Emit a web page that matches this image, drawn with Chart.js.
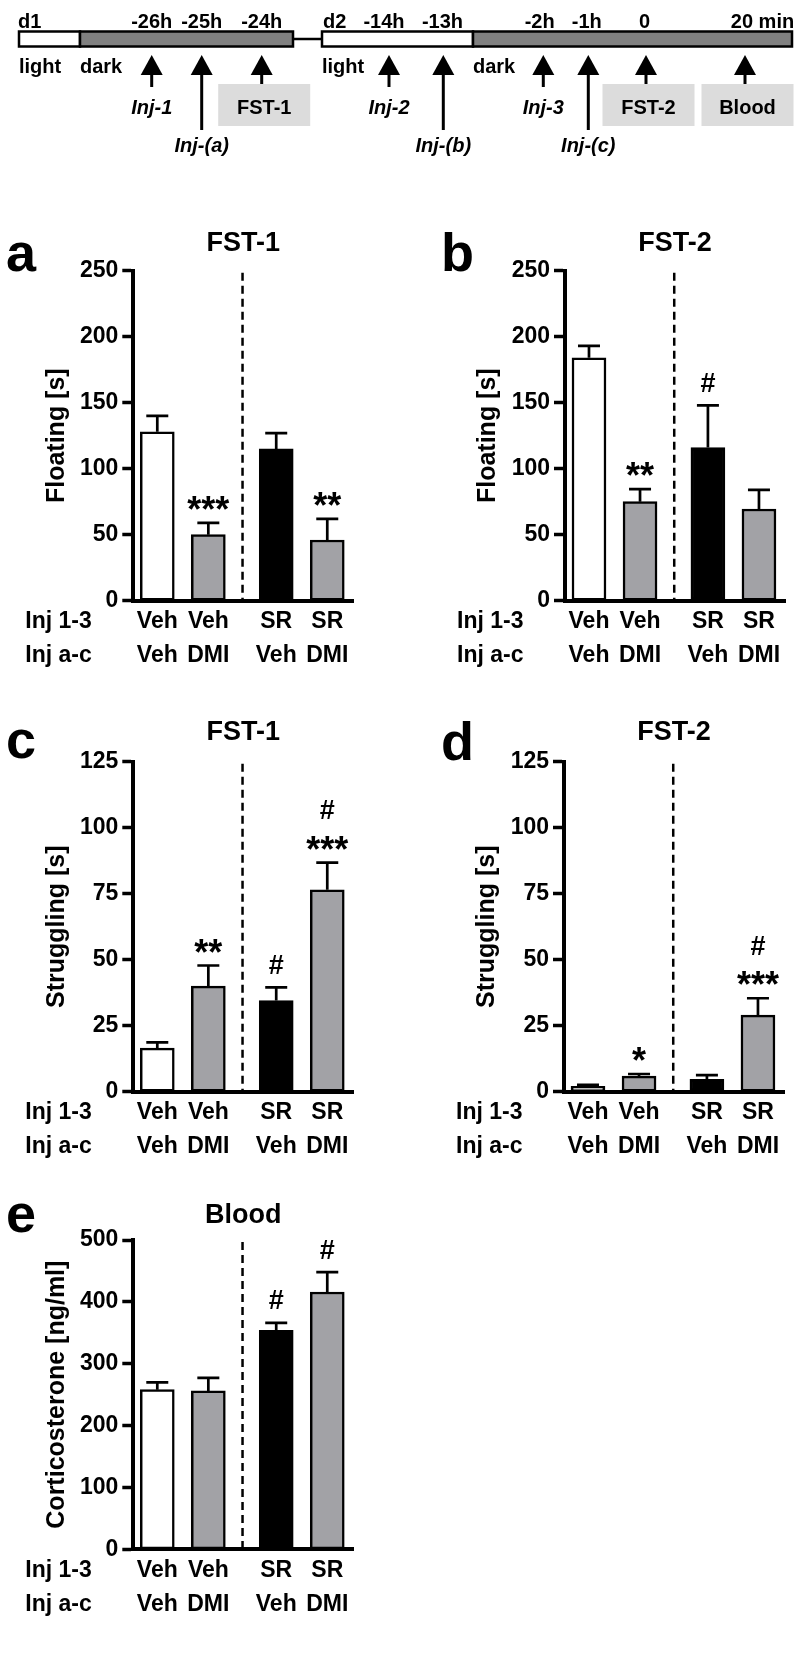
<!DOCTYPE html>
<html>
<head>
<meta charset="utf-8">
<script src="https://cdn.jsdelivr.net/npm/chart.js@4.4.0/dist/chart.umd.min.js"></script>
<style>
  html, body { margin: 0; padding: 0; background: #fff; }
  #page { position: relative; width: 800px; height: 1658px; overflow: hidden; }
  #page canvas { position: absolute; display: block; }
</style>
</head>
<body>
<div id="page">
  <canvas id="timeline" width="800" height="160" style="left:0;top:0"></canvas>
  <canvas id="chart-a" width="400" height="480" style="left:0;top:200px"></canvas>
  <canvas id="chart-b" width="400" height="480" style="left:400px;top:200px"></canvas>
  <canvas id="chart-c" width="400" height="470" style="left:0;top:690px"></canvas>
  <canvas id="chart-d" width="400" height="470" style="left:400px;top:690px"></canvas>
  <canvas id="chart-e" width="400" height="488" style="left:0;top:1170px"></canvas>
</div>
<script>
// ========================================
// Data
// ========================================
const INJ_13 = ['Veh', 'Veh', 'SR', 'SR'];
const INJ_AC = ['Veh', 'DMI', 'Veh', 'DMI'];
const ROW_LABELS = ['Inj 1-3', 'Inj a-c'];
const BAR_X = [1, 2, 3.33, 4.33];       // Veh pair, gap, SR pair
const DIVIDER_X = 2.67;

// a: FST-1 floating
const floatFst1Mean = [128, 50, 115, 46];
const floatFst1Sem = [12, 9, 12, 16];
const floatFst1Stars = ['', '***', '', '**'];
const floatFst1Hash = ['', '', '', ''];

// b: FST-2 floating
const floatFst2Mean = [184, 75, 116, 69.5];
const floatFst2Sem = [9, 9.5, 32, 14.5];
const floatFst2Stars = ['', '**', '', ''];
const floatFst2Hash = ['', '', '#', ''];

// c: FST-1 struggling
const strugFst1Mean = [16.5, 40, 34.5, 76.5];
const strugFst1Sem = [2.2, 7.8, 5, 10.3];
const strugFst1Stars = ['', '**', '', '***'];
const strugFst1Hash = ['', '', '#', '#'];

// d: FST-2 struggling
const strugFst2Mean = [2, 5.9, 4.7, 29];
const strugFst2Sem = [0.6, 0.8, 1.6, 6.4];
const strugFst2Stars = ['', '*', '', '***'];
const strugFst2Hash = ['', '', '', '#'];

// e: blood corticosterone
const cortMean = [258, 256, 354, 416];
const cortSem = [12, 21, 12, 32];
const cortStars = ['', '', '', ''];
const cortHash = ['', '', '#', '#'];

// timeline (schematic, not to scale)
const tlSegments = [[19, 80], [80, 293], [322, 473], [473, 792]];
const tlPhases = ['light', 'dark', 'light', 'dark'];
const tlDays = ['d1', 'd2'];
const tlDayX = [18, 323];
const tlTimes = ['-26h', '-25h', '-24h', '-14h', '-13h', '-2h', '-1h', '0', '20 min'];
const tlTimeX = [151.7, 201.7, 261.7, 384, 442.5, 539.7, 586.8, 644.5, 762.5];
const tlEvents = ['Inj-1', 'Inj-(a)', 'FST-1', 'Inj-2', 'Inj-(b)', 'Inj-3', 'Inj-(c)', 'FST-2', 'Blood'];
const tlEventX = [151.7, 201.7, 261.7, 389, 443.3, 543.3, 588.3, 646, 745];
const tlEventKind = ['short', 'long', 'box', 'short', 'long', 'short', 'long', 'box', 'box'];

// ========================================
// Styles
// ========================================
const FONT = "'Liberation Sans', Arial, Helvetica, sans-serif";
const BAR_COLORS = ['#ffffff', '#a2a2a6', '#000000', '#a2a2a6'];
const X_MIN = 0.53;
const X_MAX = 4.84;
const TICK_SIZE = 23;
const ROW_LH = 34;

Chart.defaults.font.family = FONT;
Chart.defaults.color = '#000';

function fillCentered(ctx, text, cx, cy) {
    const m = ctx.measureText(text);
    ctx.textAlign = 'center';
    ctx.textBaseline = 'alphabetic';
    ctx.fillText(text, cx, cy + (m.actualBoundingBoxAscent - m.actualBoundingBoxDescent) / 2);
}

// ========================================
// Panel decorations (divider, error bars, stats, titles)
// ========================================
function makeDecor(p) {
    return {
        id: 'decor_' + p.letter,
        beforeDatasetsDraw(chart) {
            const { ctx, chartArea, scales: { x } } = chart;
            const dx = x.getPixelForValue(DIVIDER_X);
            ctx.save();
            ctx.strokeStyle = '#000';
            ctx.lineWidth = 2.5;
            ctx.setLineDash([8, 5]);
            ctx.beginPath();
            ctx.moveTo(dx, chartArea.top + 2);
            ctx.lineTo(dx, chartArea.bottom);
            ctx.stroke();
            ctx.restore();
        },
        afterDatasetsDraw(chart) {
            const { ctx, scales: { x, y } } = chart;
            ctx.save();
            ctx.strokeStyle = '#000';
            ctx.fillStyle = '#000';
            ctx.lineWidth = 2.7;
            BAR_X.forEach((bx, i) => {
                const px = x.getPixelForValue(bx);
                const top = y.getPixelForValue(p.mean[i]);
                const err = y.getPixelForValue(p.mean[i] + p.sem[i]);
                ctx.beginPath();
                ctx.moveTo(px, top);
                ctx.lineTo(px, err);
                ctx.moveTo(px - 11, err);
                ctx.lineTo(px + 11, err);
                ctx.stroke();

                let cy = err;
                if (p.stars[i]) {
                    cy = err - 20;
                    ctx.font = 'bold 36px ' + FONT;
                    fillCentered(ctx, p.stars[i], px, cy);
                }
                if (p.hashes[i]) {
                    cy = p.stars[i] ? cy - 33 : err - 23;
                    ctx.font = 'bold 27px ' + FONT;
                    fillCentered(ctx, p.hashes[i], px, cy);
                }
            });
            ctx.restore();
        },
        afterDraw(chart) {
            const { ctx, chartArea, scales: { x } } = chart;
            ctx.save();
            ctx.fillStyle = '#000';
            // title
            ctx.font = 'bold 27px ' + FONT;
            fillCentered(ctx, p.title, (chartArea.left + chartArea.right) / 2, p.titleY - p.box.top);
            // panel letter
            ctx.font = 'bold 54px ' + FONT;
            ctx.textAlign = 'left';
            ctx.textBaseline = 'alphabetic';
            ctx.fillText(p.letter, p.letterX - p.box.left, p.letterY - p.box.top);
            // row labels for the group axis
            ctx.font = 'bold ' + TICK_SIZE + 'px ' + FONT;
            ctx.textBaseline = 'middle';
            ROW_LABELS.forEach((label, r) => {
                ctx.fillText(label, chartArea.left - 108, x.top + 4 + ROW_LH / 2 + r * ROW_LH);
            });
            ctx.restore();
        }
    };
}

// ========================================
// Panels
// ========================================
const PANELS = [
    { id: 'chart-a', letter: 'a', title: 'FST-1', yTitle: 'Floating [s]', yMax: 250, yStep: 50,
      mean: floatFst1Mean, sem: floatFst1Sem, stars: floatFst1Stars, hashes: floatFst1Hash,
      box: { left: 0, top: 200, width: 400, height: 480 },
      plot: { left: 133.3, top: 270.7, bottom: 600.7 },
      titleY: 241, letterX: 6, letterY: 271, yTitleX: 57.5 },
    { id: 'chart-b', letter: 'b', title: 'FST-2', yTitle: 'Floating [s]', yMax: 250, yStep: 50,
      mean: floatFst2Mean, sem: floatFst2Sem, stars: floatFst2Stars, hashes: floatFst2Hash,
      box: { left: 400, top: 200, width: 400, height: 480 },
      plot: { left: 565, top: 270.7, bottom: 600.7 },
      titleY: 241, letterX: 441, letterY: 271, yTitleX: 488 },
    { id: 'chart-c', letter: 'c', title: 'FST-1', yTitle: 'Struggling [s]', yMax: 125, yStep: 25,
      mean: strugFst1Mean, sem: strugFst1Sem, stars: strugFst1Stars, hashes: strugFst1Hash,
      box: { left: 0, top: 690, width: 400, height: 470 },
      plot: { left: 133.3, top: 761.7, bottom: 1091.7 },
      titleY: 730, letterX: 6, letterY: 758, yTitleX: 57 },
    { id: 'chart-d', letter: 'd', title: 'FST-2', yTitle: 'Struggling [s]', yMax: 125, yStep: 25,
      mean: strugFst2Mean, sem: strugFst2Sem, stars: strugFst2Stars, hashes: strugFst2Hash,
      box: { left: 400, top: 690, width: 400, height: 470 },
      plot: { left: 564, top: 761.7, bottom: 1091.7 },
      titleY: 730, letterX: 441, letterY: 760, yTitleX: 487 },
    { id: 'chart-e', letter: 'e', title: 'Blood', yTitle: 'Corticosterone [ng/ml]', yMax: 500, yStep: 100,
      mean: cortMean, sem: cortSem, stars: cortStars, hashes: cortHash,
      box: { left: 0, top: 1170, width: 400, height: 488 },
      plot: { left: 133.3, top: 1240, bottom: 1549.3 },
      titleY: 1213, letterX: 6, letterY: 1232, yTitleX: 57 }
];

function buildPanel(p) {
    const b = p.box;
    const a = p.plot;
    const yWidth = a.left - b.left;
    const padTop = a.top - b.top;
    const padRight = b.left + b.width - (a.left + 220);
    const xHeight = b.top + b.height - a.bottom;

    new Chart(document.getElementById(p.id), {
        type: 'bar',
        data: {
            datasets: [{
                data: BAR_X.map((bx, i) => ({ x: bx, y: p.mean[i] })),
                backgroundColor: BAR_COLORS,
                borderColor: '#000',
                borderWidth: 2.5,
                borderSkipped: false,
                barThickness: 34
            }]
        },
        options: {
            responsive: false,
            animation: false,
            events: [],
            layout: { padding: { top: padTop, right: padRight, left: 0, bottom: 0 } },
            plugins: {
                legend: { display: false },
                tooltip: { enabled: false },
                title: { display: false }
            },
            scales: {
                x: {
                    type: 'linear',
                    min: X_MIN,
                    max: X_MAX,
                    offset: false,
                    grid: { display: false, drawTicks: false, offset: false },
                    border: { display: true, width: 4, color: '#000', z: 1 },
                    afterBuildTicks: s => { s.ticks = BAR_X.map(v => ({ value: v })); },
                    afterFit: s => { s.height = xHeight; },
                    ticks: {
                        autoSkip: false,
                        maxRotation: 0,
                        minRotation: 0,
                        padding: 4,
                        color: '#000',
                        font: { size: TICK_SIZE, weight: 'bold', lineHeight: ROW_LH / TICK_SIZE },
                        callback: (v, i) => [INJ_13[i], INJ_AC[i]]
                    }
                },
                y: {
                    min: 0,
                    max: p.yMax,
                    grid: { drawOnChartArea: false, drawTicks: true, tickLength: 11, tickWidth: 3.5, tickColor: '#000' },
                    border: { display: true, width: 4, color: '#000', z: 1 },
                    afterFit: s => { s.width = yWidth; },
                    ticks: {
                        stepSize: p.yStep,
                        padding: 4,
                        color: '#000',
                        font: { size: TICK_SIZE, weight: 'bold' }
                    },
                    title: {
                        display: true,
                        text: p.yTitle,
                        color: '#000',
                        font: { size: 25, weight: 'bold' },
                        padding: { top: p.yTitleX - b.left - 15, bottom: 0 }
                    }
                }
            }
        },
        plugins: [makeDecor(p)]
    });
}

PANELS.forEach(buildPanel);

// ========================================
// Timeline schematic
// ========================================
const TL = {
    barTop: 31.5, barBottom: 46.5, timeBase: 27.5, phaseBase: 73,
    tip: 55, headBase: 75, headW: 22,
    shortEnd: 87, longEnd: 130, boxTop: 84, boxBottom: 126, boxW: 92, boxShift: 2.5,
    shortBase: 113.5, longBase: 152
};

const timelineDraw = {
    id: 'timelineDraw',
    afterDraw(chart) {
        const { ctx, scales: { x, y } } = chart;
        const px = v => x.getPixelForValue(v);
        const py = v => y.getPixelForValue(v);
        ctx.save();
        ctx.strokeStyle = '#000';
        ctx.fillStyle = '#000';

        // connector between the two days
        ctx.lineWidth = 2.5;
        ctx.beginPath();
        ctx.moveTo(px(tlSegments[1][1]), py((TL.barTop + TL.barBottom) / 2));
        ctx.lineTo(px(tlSegments[2][0]), py((TL.barTop + TL.barBottom) / 2));
        ctx.stroke();

        // light / dark segments
        tlSegments.forEach((seg, i) => {
            const x0 = px(seg[0]), x1 = px(seg[1]);
            const y0 = py(TL.barTop), y1 = py(TL.barBottom);
            ctx.fillStyle = tlPhases[i] === 'light' ? '#ffffff' : '#808080';
            ctx.fillRect(x0, y0, x1 - x0, y1 - y0);
            ctx.strokeRect(x0, y0, x1 - x0, y1 - y0);
        });

        ctx.fillStyle = '#000';
        ctx.font = 'bold 20px ' + FONT;
        ctx.textBaseline = 'alphabetic';
        ctx.textAlign = 'left';
        tlDays.forEach((d, i) => ctx.fillText(d, px(tlDayX[i]), py(TL.timeBase)));
        tlPhases.forEach((ph, i) => ctx.fillText(ph, px(tlSegments[i][0]), py(TL.phaseBase)));
        ctx.textAlign = 'center';
        tlTimes.forEach((t, i) => ctx.fillText(t, px(tlTimeX[i]), py(TL.timeBase)));

        // event boxes, arrows and labels
        tlEvents.forEach((ev, i) => {
            const ex = px(tlEventX[i]);
            const kind = tlEventKind[i];
            if (kind === 'box') {
                const cx = px(tlEventX[i] + TL.boxShift);
                ctx.fillStyle = '#dcdcdc';
                ctx.fillRect(cx - TL.boxW / 2, py(TL.boxTop), TL.boxW, py(TL.boxBottom) - py(TL.boxTop));
            }
            const end = kind === 'long' ? TL.longEnd : (kind === 'box' ? TL.boxTop : TL.shortEnd);
            ctx.fillStyle = '#000';
            ctx.lineWidth = 3;
            ctx.beginPath();
            ctx.moveTo(ex, py(TL.headBase) - 1);
            ctx.lineTo(ex, py(end));
            ctx.stroke();
            ctx.beginPath();
            ctx.moveTo(ex, py(TL.tip));
            ctx.lineTo(ex - TL.headW / 2, py(TL.headBase));
            ctx.lineTo(ex + TL.headW / 2, py(TL.headBase));
            ctx.closePath();
            ctx.fill();

            ctx.textAlign = 'center';
            if (kind === 'box') {
                ctx.font = 'bold 20px ' + FONT;
                ctx.fillText(ev, px(tlEventX[i] + TL.boxShift), py(TL.shortBase));
            } else {
                ctx.font = 'italic bold 20px ' + FONT;
                ctx.fillText(ev, ex, py(kind === 'long' ? TL.longBase : TL.shortBase));
            }
        });
        ctx.restore();
    }
};

new Chart(document.getElementById('timeline'), {
    type: 'scatter',
    data: { datasets: [] },
    options: {
        responsive: false,
        animation: false,
        events: [],
        layout: { padding: 0 },
        plugins: { legend: { display: false }, tooltip: { enabled: false } },
        scales: {
            x: { type: 'linear', min: 0, max: 800, display: false },
            y: { type: 'linear', min: 0, max: 160, reverse: true, display: false }
        }
    },
    plugins: [timelineDraw]
});
</script>
</body>
</html>
